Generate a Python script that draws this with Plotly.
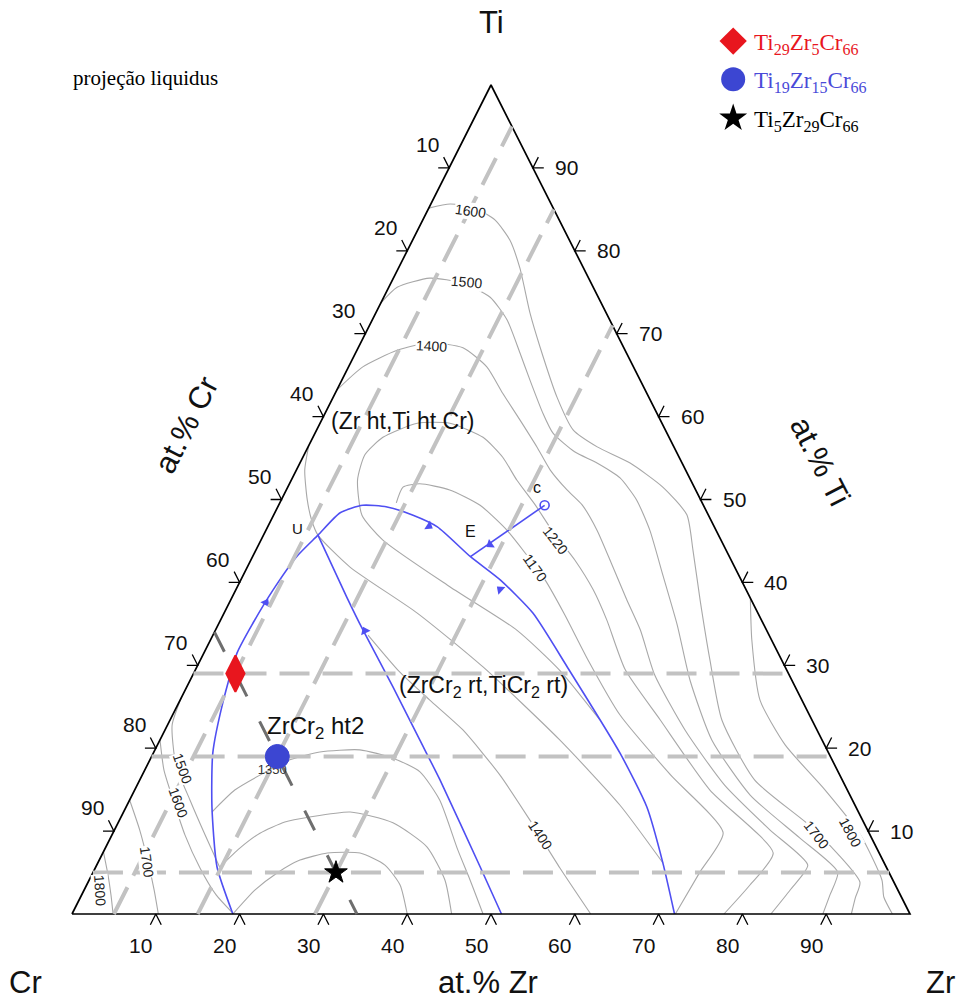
import math
import plotly.graph_objects as go

# ---------------- data: compositions in at.% given as (Zr, Ti); Cr = 100 - Zr - Ti ----------------
alloy_labels = ["Ti<sub>29</sub>Zr<sub>5</sub>Cr<sub>66</sub>",
                "Ti<sub>19</sub>Zr<sub>15</sub>Cr<sub>66</sub>",
                "Ti<sub>5</sub>Zr<sub>29</sub>Cr<sub>66</sub>"]
alloy_ti = [29, 19, 5]
alloy_zr = [5, 15, 29]
alloy_cr = [66, 66, 66]
alloy_colors = ["#e8161e", "#3c46d2", "#000000"]
alloy_text_colors = ["#e8161e", "#4a4ad8", "#000000"]

tick_values = [10, 20, 30, 40, 50, 60, 70, 80, 90]

# monovariant (liquidus valley) lines
blue_main = [(19.2, 0.0), (14.45, 5.7), (10.25, 12.9), (7.1, 19.4), (5.25, 25.5), (3.95, 31.5),
             (4.05, 35.1), (4.45, 39.1), (5.25, 43.1), (6.5, 45.7), (7.8, 48.4), (10.05, 49.3),
             (13.05, 49.1), (16.65, 48.1), (20.25, 46.7), (26.0, 43.1), (30.95, 40.3), (36.85, 36.3),
             (44.2, 29.8), (55.7, 19.4), (62.15, 12.9), (67.4, 6.2), (71.9, 0.0)]
blue_u_line = [(6.5, 45.7), (13.7, 38.2), (17.55, 34.3), (24.6, 27.4), (31.0, 21.0), (35.8, 16.2),
               (45.85, 5.7), (51.25, 0.0)]
blue_c_e = [(31.75, 49.3), (26.0, 43.1)]
point_c = (31.75, 49.3)

# arrows on the valleys: (tail, head) giving the falling-temperature direction
arrow_tails = [(4.35, 36.7), (18.4, 47.2), (32.4, 38.6), (18.6, 33.4), (28.0, 45.0)]
arrow_heads = [(4.4, 38.4), (20.0, 46.4), (30.65, 39.7), (17.15, 34.9), (27.2, 44.15)]

# liquidus isotherms
iso_1600 = [(0, 85.15), (2.3, 85.65), (5.5, 85.15), (8.65, 83.7), (11.6, 81.3), (14.5, 77.9), (18.4, 72.5),
            (21.65, 68.4), (26.7, 62.35), (30.6, 58.4), (34.5, 56.35), (39.4, 54.4), (44.75, 51.5),
            (49.3, 48.15), (52.15, 43.9), (56.0, 37.9), (60.8, 30.65), (65.85, 23.4), (73.4, 16.15),
            (83.55, 10.15), (92.1, 3.85), (92.5, 1.95), (93.0, 0)]
iso_1500 = [(0, 73.7), (1.0, 75.6), (4.35, 76.7), (8.6, 76.1), (12.7, 74.4), (16.1, 71.65), (19.6, 67.7),
            (22.45, 64.4), (25.95, 60.45), (28.4, 58.0), (32.1, 55.75), (35.45, 54.4), (39.1, 52.6),
            (42.4, 49.95), (45.8, 46.3), (50.05, 40.9), (54.8, 34.85), (59.65, 28.2), (65.85, 21.0),
            (73.75, 14.35), (82.3, 9.15), (88.85, 5.05), (89.3, 2.3), (89.6, 0)]
iso_1400 = [(0, 63.2), (1.7, 66.0), (4.8, 68.0), (8.25, 68.9), (12.5, 68.3), (16.5, 66.0), (19.95, 62.85),
            (23.65, 59.6), (27.35, 56.3), (30.3, 53.55), (33.5, 51.15), (36.2, 49.35), (39.5, 46.3),
            (43.4, 42.1), (47.25, 37.9), (50.7, 34.25), (55.1, 28.85), (62.05, 22.2), (70.1, 15.55),
            (78.2, 10.15), (84.85, 5.9), (84.25, 2.9), (83.4, 0)]
iso_1220 = [(51.3, 23.4), (43.5, 29.4), (35.95, 34.25), (25.4, 39.45), (14.55, 45.1), (10.55, 48.1),
            (7.9, 52.35), (7.25, 55.4), (8.35, 57.5), (11.6, 59.2), (15.5, 59.2), (20.3, 57.5),
            (23.85, 55.1), (26.9, 52.35), (30.6, 49.35), (34.35, 46.1), (38.65, 42.7), (42.65, 39.1),
            (46.1, 35.45), (51.3, 29.45), (58.5, 23.4), (68.65, 14.95), (80.0, 7.35), (79.15, 3.5), (77.8, 0)]
iso_1170 = [(13.9, 49.6), (13.75, 51.5), (15.55, 51.9), (19.5, 51.15), (24.05, 49.3), (28.4, 46.55),
            (32.3, 43.55), (36.3, 40.3), (40.75, 36.1), (46.25, 30.65), (53.4, 24.0), (63.0, 16.8),
            (72.8, 9.8), (72.4, 5.05), (72.0, 0)]
iso_1300 = [(0, 56.5), (1.0, 53.55), (3.1, 49.95), (4.85, 47.5), (6.5, 45.7), (12.25, 41.85),
            (23.05, 36.3), (34.15, 29.8), (47.7, 21.0), (58.8, 13.15), (67.45, 6.15)]
iso_1400_b = [(18.5, 33.65), (24.5, 29.2), (29.8, 25.8), (35.55, 22.2), (42.7, 16.75), (48.95, 11.35),
              (55.45, 5.55), (61.9, 0)]
iso_1800_r = [(61.9, 38.1), (64.6, 33.05), (69.2, 25.8), (74.9, 20.4), (82.4, 14.95), (89.3, 9.55),
              (94.6, 4.1), (95.85, 2.05), (97.9, 0)]
iso_1500_l = [(0, 26.2), (0.55, 22.8), (3.4, 18.0), (7.2, 13.75), (11.1, 9.55), (14.8, 5.65)]
iso_1600_l = [(0, 21.0), (2.3, 17.35), (5.2, 13.75), (8.7, 9.55), (12.5, 5.55), (16.05, 2.3), (19.0, 0.2)]
iso_1700_l = [(0, 13.75), (3.0, 10.15), (5.95, 6.25), (8.35, 2.9), (10.3, 0)]
iso_1800_l = [(0, 7.5), (1.95, 4.7), (3.5, 2.3), (4.9, 0)]
iso_1350 = [(10.55, 12.3), (11.95, 14.95), (14.05, 16.75), (16.7, 18.6), (19.8, 19.55), (24.45, 19.8),
            (28.9, 18.8), (32.95, 17.15), (37.0, 13.75), (42.2, 7.7), (45.45, 4.1), (49.05, 0)]
iso_1400_c = [(14.8, 5.65), (16.05, 7.95), (17.55, 9.75), (19.85, 11.1), (22.55, 11.7), (27.05, 12.3),
              (32.8, 11.0), (38.3, 8.1), (42.45, 4.1), (45.3, 0)]
iso_1450_c = [(19.2, 0), (20.4, 2.9), (22.0, 4.95), (23.95, 6.5), (26.8, 7.35), (30.7, 7.35), (34.4, 5.9),
              (37.4, 3.5), (40.0, 0)]

isotherms = [iso_1600, iso_1500, iso_1400, iso_1220, iso_1170, iso_1300, iso_1400_b, iso_1800_r,
             iso_1500_l, iso_1600_l, iso_1700_l, iso_1800_l, iso_1350, iso_1400_c, iso_1450_c]

# isotherm labels
iso_label_text = ["1600", "1500", "1400", "1220", "1170", "1400", "1700", "1800", "1500", "1600", "1700", "1800"]
iso_label_zr = [5.1, 8.9, 8.7, 35.1, 34.4, 51.1, 84.1, 87.9, 4.35, 5.9, 5.8, 1.9]
iso_label_ti = [84.8, 76.25, 68.5, 45.1, 41.75, 9.55, 9.55, 9.9, 17.6, 13.5, 6.25, 2.9]
iso_label_angle = [8, 5, 3, 52, 54, 56, 52, 62, 70, 70, 82, 86]
hidden_label = ("1350", 15.25, 17.3)

# phase-field and point labels
region_text = ["(Zr ht,Ti ht Cr)", "(ZrCr<sub>2</sub> rt,TiCr<sub>2</sub> rt)", "ZrCr<sub>2</sub> ht2", "U", "E", "c"]
region_zr = [9.8, 35.3, 17.8, 3.6, 24.4, 29.8]
region_ti = [59.45, 27.5, 22.45, 46.55, 46.2, 51.4]
region_size = [23, 23, 24, 15, 16, 16]

# ---------------- geometry of the page (triangle vertices in pixels) ----------------
W, H = 966, 1002
CR_PX, ZR_PX, TOP_PX, BASE_PX = 72, 910, 85, 914   # left vertex x, right vertex x, apex y, base y
span_x = ZR_PX - CR_PX
span_y = BASE_PX - TOP_PX


def cart(zr, ti):
    return (zr + ti / 2.0) / 100.0, ti / 100.0


def xy_list(pts):
    xs, ys = [], []
    for p in pts:
        if p is None:
            xs.append(None)
            ys.append(None)
        else:
            x, y = cart(*p)
            xs.append(x)
            ys.append(y)
    return xs, ys


fig = go.Figure()
GRAY = "#a8a8a8"
BLUE = "#4f4ff2"
LDASH = "#c2c2c2"
DDASH = "#6e6e6e"
SANS = "Liberation Sans Narrow, Liberation Sans, Arial, sans-serif"
SERIF = "Liberation Serif, Times New Roman, serif"


def add_line(pts, color, width, dash=None, spline=True):
    xs, ys = xy_list(pts)
    line = dict(color=color, width=width)
    if dash:
        line["dash"] = dash
    if spline:
        line["shape"] = "spline"
        line["smoothing"] = 0.6
    fig.add_trace(go.Scatter(x=xs, y=ys, mode="lines", line=line, hoverinfo="skip",
                             showlegend=False, cliponaxis=False))


# isotherms
for c in isotherms:
    add_line(c, GRAY, 1.1)

# valleys
add_line(blue_main, BLUE, 1.6)
add_line(blue_u_line, BLUE, 1.6)
add_line(blue_c_e, BLUE, 1.6, spline=False)

# arrowheads on the valleys, oriented along tail -> head
arr_x, arr_y, arr_ang = [], [], []
for (tz, tt), (hz, ht) in zip(arrow_tails, arrow_heads):
    x0, y0 = cart(tz, tt)
    x1, y1 = cart(hz, ht)
    arr_x.append((x0 + x1) / 2)
    arr_y.append((y0 + y1) / 2)
    arr_ang.append(math.degrees(math.atan2((x1 - x0) * span_x, (y1 - y0) * span_y)))
fig.add_trace(go.Scatter(x=arr_x, y=arr_y, mode="markers", hoverinfo="skip", showlegend=False,
                         marker=dict(symbol="triangle-up", size=9, angle=arr_ang, color=BLUE, opacity=1,
                                     line=dict(width=0))))

# triangle outline
add_line([(0, 0), (100, 0), (0, 100), (0, 0)], "#000000", 1.7, spline=False)

# composition lines through the alloys
for t in sorted(set(alloy_ti)):
    add_line([(0, t), (100 - t, t)], LDASH, 4, dash="30px,13px", spline=False)
for z in sorted(set(alloy_zr)):
    add_line([(z, 0), (z, 100 - z)], LDASH, 4, dash="30px,13px", spline=False)
for cr in sorted(set(alloy_cr)):
    add_line([(0, 100 - cr), (100 - cr, 0)], DDASH, 3, dash="22px,28px", spline=False)

# chevron ticks
d = 1.3
tick_pts = []
for v in tick_values:
    ti_l = 100 - v
    tick_pts += [(-d, ti_l), (0, ti_l), (-d, ti_l + d), None]          # left edge (Cr)
    zr_r = 100 - v
    tick_pts += [(zr_r + d, v), (zr_r, v), (zr_r, v + d), None]        # right edge (Ti)
    tick_pts += [(v, -d), (v, 0), (v + d, -d), None]                   # bottom edge (Zr)
add_line(tick_pts, "#000000", 1.3, spline=False)

# c point
cx, cy = cart(*point_c)
fig.add_trace(go.Scatter(x=[cx], y=[cy], mode="markers", hoverinfo="skip", showlegend=False,
                         marker=dict(symbol="circle-open", size=9, color=BLUE, opacity=1,
                                     line=dict(width=1.6, color=BLUE))))

# 1350 label, mostly hidden under the blue marker
lx, ly = cart(hidden_label[1], hidden_label[2])
fig.add_trace(go.Scatter(x=[lx], y=[ly], mode="text", text=[hidden_label[0]], hoverinfo="skip",
                         showlegend=False,
                         textfont=dict(size=13, color="#333333", family="Liberation Sans, Arial")))

# alloy markers
ax_, ay_ = zip(*[cart(z, t) for z, t in zip(alloy_zr, alloy_ti)])
fig.add_trace(go.Scatter(x=list(ax_), y=list(ay_), mode="markers", hoverinfo="skip", showlegend=False,
                         cliponaxis=False,
                         marker=dict(symbol=["diamond-tall", "circle", "star"], size=[26, 24, 17],
                                     opacity=1, color=alloy_colors,
                                     line=dict(width=[2, 1, 1], color=alloy_colors))))

# manual legend (top right)
leg_x_marker = 0.789
leg_x_text = 0.811
leg_y = [1.053, 1.007, 0.960]
fig.add_trace(go.Scatter(x=[leg_x_marker] * 3, y=leg_y, mode="markers", hoverinfo="skip", showlegend=False,
                         cliponaxis=False,
                         marker=dict(symbol=["diamond", "circle", "star"], size=[21, 24, 21], opacity=1,
                                     color=alloy_colors, line=dict(width=0))))

annotations = []
for lab, col, y in zip(alloy_labels, alloy_text_colors, leg_y):
    annotations.append(dict(x=leg_x_text, y=y - 0.003, xref="x", yref="y", text=lab, showarrow=False,
                            xanchor="left", yanchor="middle",
                            font=dict(family=SERIF, size=23, color=col)))

# isotherm labels
for txt, z, t, ang in zip(iso_label_text, iso_label_zr, iso_label_ti, iso_label_angle):
    x, y = cart(z, t)
    annotations.append(dict(x=x, y=y, xref="x", yref="y", text=txt, showarrow=False, textangle=ang,
                            bgcolor="white", borderpad=0,
                            font=dict(family="Liberation Sans, Arial", size=14, color="#222222")))

# region labels
for txt, z, t, s in zip(region_text, region_zr, region_ti, region_size):
    x, y = cart(z, t)
    annotations.append(dict(x=x, y=y, xref="x", yref="y", text=txt, showarrow=False,
                            font=dict(family="Liberation Sans, Arial", size=s, color="#111111")))

# tick labels
for v in tick_values:
    x, y = cart(-4.0, 100 - v + 2.8)
    annotations.append(dict(x=x, y=y, xref="x", yref="y", text=str(v), showarrow=False,
                            font=dict(family=SANS, size=21, color="#111111")))
    x, y = cart(100 - v + 4.0, v)
    annotations.append(dict(x=x, y=y, xref="x", yref="y", text=str(v), showarrow=False,
                            font=dict(family=SANS, size=21, color="#111111")))
    x, y = cart(v + 0.1, -3.75)
    annotations.append(dict(x=x, y=y, xref="x", yref="y", text=str(v), showarrow=False,
                            font=dict(family=SANS, size=21, color="#111111")))

# corner and axis titles
title_font = dict(family=SANS, size=31, color="#111111")
annotations += [
    dict(x=0.5, y=1.076, xref="x", yref="y", text="Ti", showarrow=False, font=title_font),
    dict(x=-0.056, y=-0.083, xref="x", yref="y", text="Cr", showarrow=False, font=title_font),
    dict(x=1.036, y=-0.083, xref="x", yref="y", text="Zr", showarrow=False, font=title_font),
    dict(x=0.496, y=-0.083, xref="x", yref="y", text="at.% Zr", showarrow=False, font=title_font),
    dict(x=0.137, y=0.59, xref="x", yref="y", text="at.% Cr", showarrow=False, textangle=-63, font=title_font),
    dict(x=0.893, y=0.546, xref="x", yref="y", text="at.% Ti", showarrow=False, textangle=63, font=title_font),
    dict(x=0.088, y=1.0085, xref="x", yref="y", text="projeção liquidus", showarrow=False,
         font=dict(family=SERIF, size=21, color="#000000")),
]

# axes span the whole page so that nothing outside the triangle is hidden
x_range = [(0 - CR_PX) / span_x, (W - CR_PX) / span_x]
y_range = [(BASE_PX - H) / span_y, BASE_PX / span_y]

fig.update_layout(
    width=W, height=H,
    margin=dict(l=0, r=0, t=0, b=0, pad=0),
    paper_bgcolor="white", plot_bgcolor="white",
    showlegend=False,
    annotations=annotations,
    xaxis=dict(range=x_range, visible=False, fixedrange=True),
    yaxis=dict(range=y_range, visible=False, fixedrange=True),
)

fig.write_html("out.html", config={"displayModeBar": False},
               post_script="document.body.style.margin='0';document.body.style.overflow='hidden';")
